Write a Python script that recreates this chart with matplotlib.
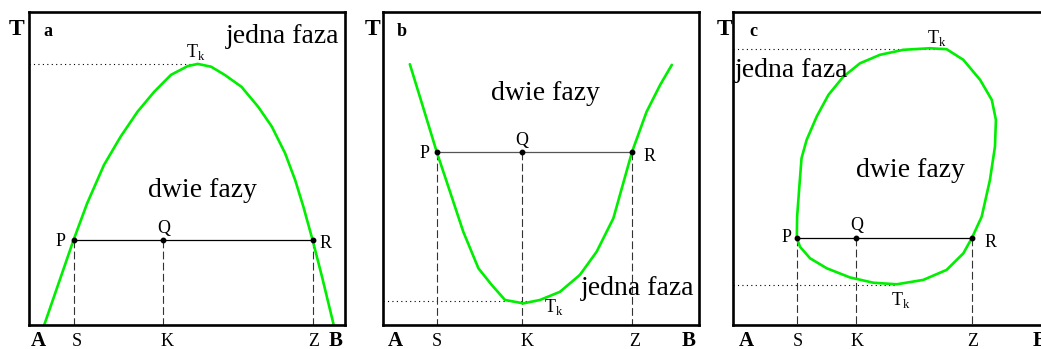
import matplotlib
matplotlib.use("Agg")
import matplotlib.pyplot as plt

plt.rcParams['font.family'] = ['Liberation Serif', 'DejaVu Serif']
plt.rcParams['mathtext.fontset'] = 'custom'
plt.rcParams['mathtext.rm'] = 'Liberation Serif'

# composition axis A..B -> 0..1, temperature axis -> 0..1
# panel a: upper critical point
curve_a_x = [0.048, 0.141, 0.184, 0.237, 0.290, 0.343, 0.396, 0.449, 0.502,
             0.534, 0.576, 0.619, 0.672, 0.725, 0.768, 0.810, 0.842, 0.868,
             0.897, 0.927, 0.964]
curve_a_y = [0.0, 0.272, 0.389, 0.511, 0.602, 0.681, 0.745, 0.799, 0.827,
             0.834, 0.825, 0.799, 0.761, 0.697, 0.634, 0.549, 0.463, 0.378,
             0.272, 0.154, 0.0]
tie_a = {'y': 0.272, 'P': 0.141, 'Q': 0.423, 'R': 0.897}
tk_a = [0.834]

# panel b: lower critical point
curve_b_x = [0.085, 0.128, 0.170, 0.212, 0.254, 0.302, 0.344, 0.386, 0.444,
             0.497, 0.560, 0.623, 0.676, 0.729, 0.788, 0.834, 0.877, 0.914]
curve_b_y = [0.833, 0.692, 0.553, 0.426, 0.298, 0.181, 0.128, 0.080, 0.069,
             0.080, 0.106, 0.160, 0.234, 0.341, 0.553, 0.681, 0.767, 0.831]
tie_b = {'y': 0.553, 'P': 0.170, 'Q': 0.439, 'R': 0.788}
tk_b = [0.077]

# panel c: closed miscibility loop
curve_c_x = [0.202, 0.203, 0.210, 0.217, 0.233, 0.265, 0.302, 0.349, 0.402,
             0.465, 0.539, 0.623, 0.676, 0.729, 0.782, 0.819, 0.832, 0.829,
             0.813, 0.787, 0.756, 0.729, 0.676, 0.602, 0.518, 0.444, 0.370,
             0.297, 0.244, 0.212, 0.202]
curve_c_y = [0.278, 0.346, 0.442, 0.533, 0.591, 0.666, 0.735, 0.793, 0.836,
             0.863, 0.879, 0.884, 0.881, 0.847, 0.783, 0.719, 0.655, 0.570,
             0.463, 0.346, 0.278, 0.229, 0.176, 0.144, 0.130, 0.135, 0.152,
             0.181, 0.213, 0.250, 0.278]
tie_c = {'y': 0.278, 'P': 0.202, 'Q': 0.389, 'R': 0.756}
tk_c = [0.882, 0.128]

panels = [
    dict(left=0.0279, letter='a', cx=curve_a_x, cy=curve_a_y, tie=tie_a,
         tk=tk_a, tk_end=[0.523], tie_color='black',
         T_x=-0.041, let_x=0.060,
         one=(0.801, 0.901, 'center'), two=(0.548, 0.410),
         tk_lbl=[(0.496, 0.857)],
         P=(0.100, 0.252), Q=(0.427, 0.294), R=(0.939, 0.246),
         bottom=[0.028, 0.150, 0.438, 0.900, 0.969]),
    dict(left=0.3679, letter='b', cx=curve_b_x, cy=curve_b_y, tie=tie_b,
         tk=tk_b, tk_end=[0.484], tie_color='#555555',
         T_x=-0.032, let_x=0.060,
         one=(0.805, 0.096, 'center'), two=(0.514, 0.719),
         tk_lbl=[(0.510, 0.042)],
         P=(0.130, 0.532), Q=(0.439, 0.575), R=(0.842, 0.525),
         bottom=[0.038, 0.170, 0.455, 0.797, 0.966]),
    dict(left=0.7041, letter='c', cx=curve_c_x, cy=curve_c_y, tie=tie_c,
         tk=tk_c, tk_end=[0.664, 0.519], tie_color='black',
         T_x=-0.028, let_x=0.066,
         one=(0.006, 0.791, 'left'), two=(0.562, 0.474),
         tk_lbl=[(0.615, 0.900), (0.499, 0.064)],
         P=(0.168, 0.266), Q=(0.391, 0.304), R=(0.816, 0.250),
         bottom=[0.043, 0.204, 0.391, 0.760, 0.969]),
]
bottom_labels = ['A', 'S', 'K', 'Z', 'B']

fig = plt.figure(figsize=(10.41, 3.49), dpi=100)

for p in panels:
    ax = fig.add_axes([p['left'], 0.0688, 0.3036, 0.897])
    ax.set_xlim(0, 1)
    ax.set_ylim(0, 1)
    ax.set_xticks([])
    ax.set_yticks([])
    for s in ax.spines.values():
        s.set_linewidth(1.9)

    tie = p['tie']
    # dotted critical temperature lines
    for y, x_end in zip(p['tk'], p['tk_end']):
        ax.plot([0, x_end], [y, y], color='black', lw=0.8,
                linestyle=(0, (1, 3)))
    # dashed drop lines to the composition axis
    for key in ['P', 'Q', 'R']:
        ax.plot([tie[key], tie[key]], [tie['y'], 0], color='#333333', lw=0.8,
                linestyle=(0, (7, 3)))
    ax.plot([tie['P'], tie['R']], [tie['y'], tie['y']],
            color=p['tie_color'], lw=0.9)
    ax.plot(p['cx'], p['cy'], color='#00ee00', lw=1.9,
            solid_joinstyle='round', solid_capstyle='round')
    ax.plot([tie['P'], tie['Q'], tie['R']], [tie['y']] * 3, 'o',
            color='black', markersize=3.2)

    ax.text(p['T_x'], 0.943, 'T', fontsize=17, fontweight='bold',
            ha='center', va='center', clip_on=False)
    ax.text(p['let_x'], 0.939, p['letter'], fontsize=13, fontweight='bold',
            ha='center', va='center')
    ax.text(p['one'][0], p['one'][1], 'jedna faza', fontsize=20,
            ha=p['one'][2], va='baseline')
    ax.text(p['two'][0], p['two'][1], 'dwie fazy', fontsize=20,
            ha='center', va='baseline')
    for x, y in p['tk_lbl']:
        ax.text(x, y, r'T$_{\rm k}$', fontsize=13, ha='left', va='baseline')
    for key in ['P', 'Q', 'R']:
        ax.text(p[key][0], p[key][1], key, fontsize=13, ha='center',
                va='baseline')
    for x, lbl in zip(p['bottom'], bottom_labels):
        bold = lbl in ('A', 'B')
        ax.text(x, -0.068, lbl, fontsize=15 if bold else 13,
                fontweight='bold' if bold else 'normal',
                ha='center', va='baseline', clip_on=False)

fig.savefig('out.png', dpi=100)
